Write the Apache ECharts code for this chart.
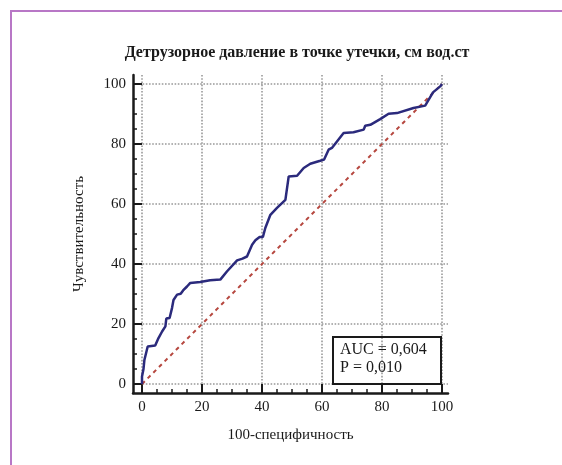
<!DOCTYPE html>
<html>
<head>
<meta charset="utf-8">
<script src="https://cdn.jsdelivr.net/npm/echarts@6/dist/echarts.min.js"></script>
<style>
  html, body { margin: 0; padding: 0; background: #fff; }
  #wrap { position: relative; width: 562px; height: 465px; overflow: hidden; }
  #frame { position: absolute; left: 10px; top: 10px; width: 600px; height: 500px;
           border-left: 2px solid #b877c6; border-top: 2px solid #b877c6; }
  #chart { position: absolute; left: 0; top: 0; width: 562px; height: 465px; }
</style>
</head>
<body>
<div id="wrap"><div id="frame"></div><div id="chart"></div></div>
<script>
// ROC curve: 100-specificity (x) vs sensitivity (y), in percent
const fpr = [0, 0, 0.5, 0.8, 1.9, 4.4, 5.5, 6.7, 7.8, 8.1, 9.2, 10, 10.5, 11.7, 12.9, 13.7, 15, 16.1,
  19.4, 22.7, 26.1, 28.3, 31.7, 33.5, 35, 36.7, 37.8, 39.2, 40.3, 41.1, 42.8, 45, 47.8, 48.9, 51.7,
  53.9, 56.1, 59.4, 60.7, 62.2, 63.3, 67.2, 70.5, 73.9, 74.4, 76.1, 79.4, 82.2, 85, 90.5, 94.4, 95,
  97, 99.4, 100];
const tpr = [0, 2.5, 5, 8, 12.5, 12.8, 15.3, 17.5, 19.2, 21.8, 22, 25.3, 28, 29.8, 30.1, 31.2, 32.5, 33.7,
  34, 34.6, 34.8, 37.5, 41.2, 41.8, 42.5, 46.4, 47.9, 49, 49, 52, 56.4, 58.7, 61.4, 69.2, 69.4,
  72, 73.4, 74.4, 74.8, 78.1, 78.7, 83.7, 83.9, 84.8, 86.1, 86.4, 88.3, 90.1, 90.3, 92, 92.8, 92.9,
  97.2, 99.2, 100];
const refLine = [[0, 0], [100, 100]];

const majorTicks = [0, 20, 40, 60, 80, 100];
const minorTicks = [5, 10, 15, 25, 30, 35, 45, 50, 55, 65, 70, 75, 85, 90, 95];

const titleText = 'Детрузорное давление в точке утечки, см вод.ст';
const xName = '100-специфичность';
const yName = 'Чувствительность';
const statsText = 'AUC = 0,604\nP = 0,010';

const FONT = '"Liberation Serif", "DejaVu Serif", serif';
const INK = '#1a1a1a';

const curve = fpr.map((x, i) => [x, tpr[i]]);

function mainAxis(name, gap, extra) {
  return Object.assign({
    type: 'value',
    min: -3,
    name: name,
    nameLocation: 'middle',
    nameGap: gap,
    nameTextStyle: { fontFamily: FONT, fontSize: 15, color: INK },
    axisLine: { show: true, onZero: false, lineStyle: { color: INK, width: 2.5 } },
    axisTick: { show: true, inside: true, length: 9, customValues: majorTicks,
                lineStyle: { color: INK, width: 2 } },
    axisLabel: { customValues: majorTicks, fontFamily: FONT, fontSize: 15, color: INK, margin: 7 },
    splitLine: { show: true, lineStyle: { type: 'dotted', color: '#999', width: 1.6 } }
  }, extra);
}
function minorAxis(extra) {
  return Object.assign({
    type: 'value',
    min: -3,
    axisLine: { show: false, onZero: false },
    axisTick: { show: true, inside: true, length: 4, customValues: minorTicks,
                lineStyle: { color: INK, width: 1.5 } },
    axisLabel: { show: false },
    splitLine: { show: false }
  }, extra);
}

const chart = echarts.init(document.getElementById('chart'), null, { renderer: 'canvas' });
chart.setOption({
  animation: false,
  backgroundColor: 'transparent',
  title: [
    { text: titleText, left: 292, top: 40, textAlign: 'center',
      textStyle: { fontFamily: FONT, fontSize: 16, fontWeight: 'bold', color: INK } },
    { text: statsText, left: 333, top: 337,
      borderColor: INK, borderWidth: 2, padding: [4, 14, 7, 7],
      textStyle: { fontFamily: FONT, fontSize: 16, fontWeight: 'normal', color: INK, lineHeight: 18 } }
  ],
  grid: { left: 133, top: 75, width: 315, height: 318, containLabel: false },
  xAxis: [
    mainAxis(xName, 35, { max: 102, position: 'bottom' }),
    minorAxis({ max: 102, position: 'bottom' })
  ],
  yAxis: [
    mainAxis(yName, 46, { max: 103, position: 'left' }),
    minorAxis({ max: 103, position: 'left' })
  ],
  series: [
    {
      name: 'reference', type: 'line', data: refLine, symbol: 'none',
      xAxisIndex: 0, yAxisIndex: 0,
      lineStyle: { color: '#b6473f', width: 2, type: [4, 4] }
    },
    {
      name: 'ROC', type: 'line', data: curve, symbol: 'none',
      xAxisIndex: 0, yAxisIndex: 0,
      lineStyle: { color: '#2b2a7c', width: 2.5 }
    }
  ]
});
</script>
</body>
</html>
